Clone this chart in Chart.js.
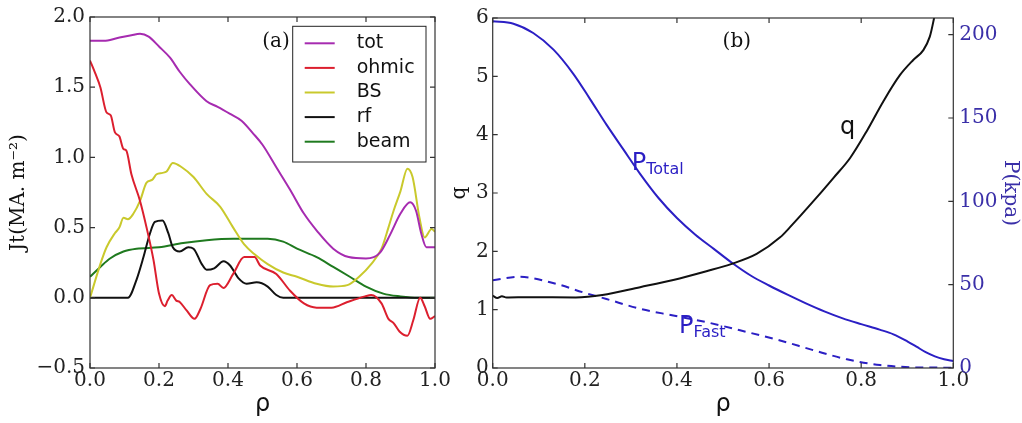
<!DOCTYPE html>
<html><head><meta charset="utf-8">
<script src="https://cdn.jsdelivr.net/npm/chart.js@4"></script>
<style>
html,body{margin:0;padding:0;background:#fff;width:1022px;height:423px;overflow:hidden}
#a{position:absolute;left:0;top:0}
#b{position:absolute;left:440px;top:0}
</style></head><body>
<canvas id="a" width="460" height="423"></canvas>
<canvas id="b" width="582" height="423"></canvas>
<script>
// ---------- panel (a) data ----------
const totRho = [0,0.04,0.08,0.12,0.145,0.17,0.2,0.232,0.26,0.29,0.338,0.37,0.406,0.44,0.473,0.5,0.54,0.58,0.62,0.66,0.705,0.75,0.8,0.84,0.87,0.9,0.928,0.945,0.96,0.975,1];
const totJ   = [1.83,1.83,1.85,1.87,1.88,1.86,1.79,1.71,1.61,1.52,1.40,1.36,1.31,1.26,1.17,1.09,0.93,0.77,0.60,0.47,0.35,0.29,0.28,0.32,0.45,0.60,0.68,0.62,0.46,0.36,0.36];

const ohmicRho = [0,0.015,0.03,0.048,0.06,0.072,0.085,0.097,0.105,0.12,0.145,0.164,0.184,0.2,0.217,0.225,0.237,0.25,0.26,0.28,0.303,0.32,0.348,0.37,0.387,0.415,0.447,0.477,0.493,0.54,0.58,0.62,0.657,0.7,0.746,0.797,0.815,0.845,0.865,0.88,0.897,0.92,0.937,0.957,0.97,0.986,1];
const ohmicJ   = [1.69,1.60,1.50,1.32,1.30,1.18,1.15,1.06,1.05,0.88,0.69,0.50,0.27,0.03,-0.06,-0.02,0.02,-0.02,-0.03,-0.09,-0.15,-0.08,0.09,0.10,0.07,0.17,0.29,0.29,0.23,0.17,0.05,-0.04,-0.07,-0.07,-0.03,0.01,0.02,-0.04,-0.15,-0.18,-0.24,-0.27,-0.16,0.0,-0.06,-0.15,-0.13];

const bsRho = [0,0.03,0.048,0.072,0.085,0.097,0.11,0.126,0.145,0.164,0.18,0.193,0.21,0.222,0.24,0.266,0.3,0.338,0.377,0.415,0.447,0.477,0.515,0.56,0.6,0.657,0.705,0.746,0.78,0.815,0.845,0.865,0.88,0.9,0.92,0.935,0.955,0.97,0.99,1];
const bsJ   = [0,0.24,0.36,0.46,0.50,0.57,0.56,0.60,0.69,0.82,0.84,0.88,0.89,0.90,0.96,0.93,0.86,0.74,0.65,0.50,0.38,0.31,0.24,0.18,0.15,0.10,0.08,0.09,0.15,0.24,0.35,0.50,0.62,0.76,0.92,0.86,0.57,0.43,0.49,0.47];

const rfRho = [0,0.11,0.135,0.155,0.174,0.188,0.21,0.227,0.24,0.26,0.285,0.3,0.324,0.338,0.36,0.387,0.406,0.43,0.454,0.483,0.515,0.54,0.56,1];
const rfJ   = [0,0,0.13,0.29,0.46,0.54,0.55,0.46,0.36,0.33,0.36,0.35,0.24,0.20,0.21,0.26,0.23,0.14,0.10,0.11,0.08,0.02,0,0];

const beamRho = [0,0.03,0.058,0.097,0.135,0.2,0.27,0.338,0.415,0.515,0.56,0.6,0.657,0.705,0.753,0.8,0.85,0.9,0.95,1];
const beamJ   = [0.15,0.22,0.28,0.33,0.35,0.36,0.39,0.41,0.42,0.42,0.40,0.35,0.29,0.22,0.15,0.08,0.03,0.01,0,0];

// ---------- panel (b) data ----------
const pTotRho = [0,0.045,0.088,0.132,0.175,0.211,0.247,0.284,0.32,0.36,0.40,0.44,0.48,0.52,0.56,0.60,0.64,0.68,0.72,0.76,0.80,0.84,0.87,0.90,0.92,0.94,0.96,0.98,1];
const pTot    = [208,206.6,201,191,176.5,161.5,146,131,116.5,102,90,80,71.5,63,55.5,49.5,44,38.8,34,29.8,26.3,23,20.2,16,12.8,9.5,7,5.3,4.2];

const pFastRho = [0,0.059,0.139,0.196,0.247,0.32,0.392,0.464,0.537,0.624,0.696,0.769,0.841,0.913,1];
const pFast    = [52.7,54.7,50.4,45.4,41.4,35.5,31.5,27.5,22.6,16.5,10.7,5.2,1.8,0.4,0.2];

const qRho = [0,0.01,0.02,0.03,0.08,0.18,0.238,0.32,0.392,0.464,0.519,0.573,0.624,0.645,0.703,0.74,0.776,0.812,0.848,0.884,0.913,0.935,0.949,0.957,0.965];
const qVal = [1.24,1.20,1.23,1.21,1.215,1.21,1.25,1.386,1.51,1.66,1.785,1.955,2.24,2.41,2.92,3.26,3.60,4.06,4.57,5.02,5.28,5.45,5.68,5.95,6.3];

const C = {tot:'#a62bb0', ohmic:'#dc1f2e', bs:'#c9c92c', rf:'#111111', beam:'#1f7a1f', blue:'#2b1fc4', blueText:'#3a2fa8', frame:'#333333', text:'#222222'};
const SERIF = '"DejaVu Serif", serif';
const SANS = '"DejaVu Sans", sans-serif';

function pts(xs, ys){ return xs.map((x,i)=>({x:x, y:ys[i]})); }
function fmt1(v){ return Number(v).toFixed(1).replace('-', '\u2212'); }

function framePlugin(leftId, rightId){
  return {id:'frame', afterDraw(chart){
    const ctx=chart.ctx, a=chart.chartArea, L=5;
    ctx.save();
    ctx.strokeStyle=C.frame; ctx.lineWidth=1.2;
    ctx.strokeRect(a.left, a.top, a.right-a.left, a.bottom-a.top);
    ctx.beginPath();
    const sx=chart.scales.x;
    sx.ticks.forEach(t=>{const p=sx.getPixelForValue(t.value);
      ctx.moveTo(p,a.bottom); ctx.lineTo(p,a.bottom-L);
      ctx.moveTo(p,a.top); ctx.lineTo(p,a.top+L);});
    const sl=chart.scales[leftId];
    sl.ticks.forEach(t=>{const p=sl.getPixelForValue(t.value);
      ctx.moveTo(a.left,p); ctx.lineTo(a.left+L,p);});
    const sr=chart.scales[rightId];
    sr.ticks.forEach(t=>{const p=sr.getPixelForValue(t.value);
      ctx.moveTo(a.right,p); ctx.lineTo(a.right-L,p);});
    ctx.stroke();
    ctx.restore();
  }};
}

const legendPlugin = {id:'boxLegend', afterDraw(chart){
  const ctx=chart.ctx;
  const bx=292.7, by=26.3, bw=133.3, bh=135.7, row=24.6;
  ctx.save();
  ctx.fillStyle='#fff'; ctx.fillRect(bx,by,bw,bh);
  ctx.strokeStyle='#222'; ctx.lineWidth=1; ctx.strokeRect(bx,by,bw,bh);
  ctx.font='19px '+SANS; ctx.textBaseline='middle'; ctx.textAlign='left';
  chart.data.datasets.forEach((d,i)=>{
    const y=by+17+i*row;
    ctx.strokeStyle=d.borderColor; ctx.lineWidth=2;
    ctx.beginPath(); ctx.moveTo(bx+12,y); ctx.lineTo(bx+42,y); ctx.stroke();
    ctx.fillStyle='#111'; ctx.fillText(d.label, bx+64, y);
  });
  ctx.restore();
}};

const labelA = {id:'labA', afterDatasetsDraw(chart){
  const ctx=chart.ctx, sx=chart.scales.x, sy=chart.scales.y;
  ctx.save(); ctx.font='20px '+SERIF; ctx.fillStyle='#111'; ctx.textAlign='center'; ctx.textBaseline='middle';
  ctx.fillText('(a)', sx.getPixelForValue(0.539), sy.getPixelForValue(1.822));
  ctx.restore();
}};

const labelB = {id:'labB', afterDatasetsDraw(chart){
  const ctx=chart.ctx, sx=chart.scales.x, sy=chart.scales.y, sp=chart.scales.y1;
  ctx.save();
  ctx.font='20px '+SERIF; ctx.fillStyle='#111'; ctx.textAlign='center'; ctx.textBaseline='middle';
  ctx.fillText('(b)', sx.getPixelForValue(0.53), sy.getPixelForValue(5.59));
  ctx.textAlign='left'; ctx.textBaseline='alphabetic';
  function sub(main, s, rx, pv){
    const x=sx.getPixelForValue(rx), y=sp.getPixelForValue(pv);
    ctx.fillStyle=C.blue; ctx.font='24px '+SANS; ctx.fillText(main,x,y);
    const w=ctx.measureText(main).width;
    ctx.font='16px '+SANS; ctx.fillText(s,x+w,y+4);
  }
  sub('P','Total',0.302,119);
  sub('P','Fast',0.4045,20.8);
  ctx.fillStyle='#111'; ctx.font='24px '+SANS;
  ctx.fillText('q', sx.getPixelForValue(0.754), sy.getPixelForValue(4.02));
  ctx.restore();
}};

function xScale(h){
  return {type:'linear', min:0, max:1,
    ticks:{stepSize:0.2, callback:fmt1, font:{family:SERIF,size:20}, color:C.text, padding:1, maxRotation:0, includeBounds:false},
    grid:{display:false, drawTicks:false}, border:{display:false},
    title:{display:true, text:'\u03c1', font:{family:SANS,size:24}, color:'#111', padding:{top:0,bottom:4}},
    afterFit(s){ s.height=h; }};
}

const common = {responsive:false, animation:false, devicePixelRatio:1,
  plugins:{legend:{display:false}, tooltip:{enabled:false}},
  elements:{point:{radius:0}, line:{borderWidth:2, cubicInterpolationMode:'monotone'}}};

function ds(label, xs, ys, color, extra){
  return Object.assign({label:label, data:pts(xs,ys), borderColor:color, backgroundColor:color, fill:false}, extra||{});
}

new Chart(document.getElementById('a'), {
  type:'line',
  data:{datasets:[
    ds('tot', totRho, totJ, C.tot),
    ds('ohmic', ohmicRho, ohmicJ, C.ohmic),
    ds('BS', bsRho, bsJ, C.bs),
    ds('rf', rfRho, rfJ, C.rf),
    ds('beam', beamRho, beamJ, C.beam)
  ]},
  options:Object.assign({}, common, {
    layout:{padding:{top:16,right:25,left:0,bottom:0}},
    scales:{
      x:xScale(55),
      y:{type:'linear', min:-0.5, max:2.0,
        ticks:{stepSize:0.5, callback:fmt1, font:{family:SERIF,size:20}, color:C.text, padding:5, includeBounds:false},
        grid:{display:false, drawTicks:false}, border:{display:false},
        title:{display:true, text:'Jt(MA. m\u207b\u00b2)', font:{family:SERIF,size:20}, color:'#111', padding:{top:7,bottom:0}},
        afterFit(s){ s.width=90; }}
    }
  }),
  plugins:[framePlugin('y','y'), labelA, legendPlugin]
});

new Chart(document.getElementById('b'), {
  type:'line',
  data:{datasets:[
    ds('q', qRho, qVal, '#111111', {yAxisID:'y'}),
    ds('P_Total', pTotRho, pTot, C.blue, {yAxisID:'y1'}),
    ds('P_Fast', pFastRho, pFast, C.blue, {yAxisID:'y1', borderDash:[8,6]})
  ]},
  options:Object.assign({}, common, {
    layout:{padding:{top:16,right:0,left:0,bottom:0}},
    scales:{
      x:xScale(55),
      y:{type:'linear', position:'left', min:0, max:6,
        ticks:{stepSize:1, font:{family:SERIF,size:20}, color:C.text, padding:4, includeBounds:false},
        grid:{display:false, drawTicks:false}, border:{display:false},
        title:{display:true, text:'q', font:{family:SERIF,size:20}, color:'#111', padding:{top:8,bottom:0}},
        afterFit(s){ s.width=52.7; }},
      y1:{type:'linear', position:'right', min:0, max:210,
        ticks:{stepSize:50, font:{family:SERIF,size:20}, color:C.blueText, padding:6, includeBounds:false},
        grid:{display:false, drawTicks:false}, border:{display:false},
        title:{display:true, text:'P(kpa)', font:{family:SERIF,size:20}, color:C.blueText, padding:{top:0,bottom:0}},
        afterFit(s){ s.width=68.7; }}
    }
  }),
  plugins:[framePlugin('y','y1'), labelB]
});
</script>
</body></html>
